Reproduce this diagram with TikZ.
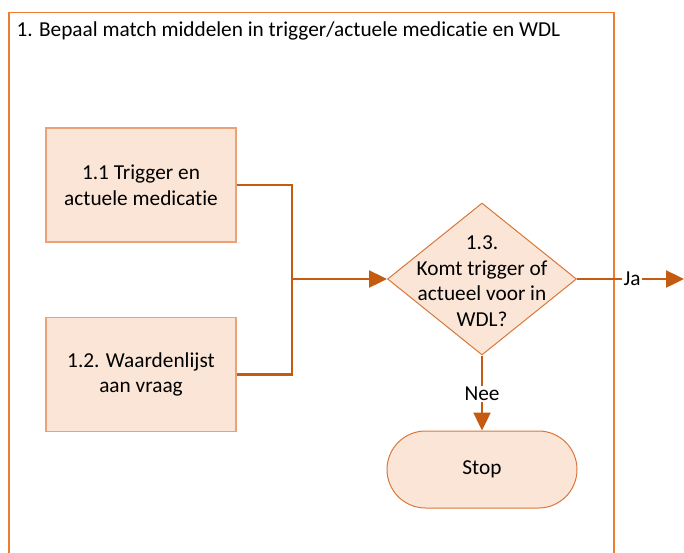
\documentclass[tikz,border=0pt]{standalone}
\usepackage{fontspec}
\setmainfont[Ligatures=NoCommon]{Carlito}
\usetikzlibrary{arrows.meta,shapes.geometric,shapes.misc}
\definecolor{frameor}{HTML}{ED7D31}
\definecolor{connor}{HTML}{C55A11}
\definecolor{boxfill}{HTML}{FBE5D6}
\definecolor{boxline}{HTML}{EBA277}
\definecolor{shapeline}{HTML}{D9773A}
\tikzset{
  txt/.style={font=\fontsize{21.3}{25.6}\selectfont, text=black},
  stepbox/.style={txt, draw=boxline, line width=1.2pt, fill=boxfill, minimum width=190pt, minimum height=114pt, align=center, inner sep=0pt},
  decision/.style={diamond, draw=shapeline, line width=1pt, fill=boxfill, minimum width=189pt, minimum height=152pt, inner sep=0pt},
  terminal/.style={rounded rectangle, draw=shapeline, line width=1pt, fill=boxfill, minimum width=190pt, minimum height=77pt, inner sep=0pt, txt},
  conn/.style={draw=connor, line width=2.4pt},
  arr/.style={-{Triangle[length=18pt,width=17pt]}},
  lbl/.style={txt, fill=white, inner sep=1pt}
}
\begin{document}
\begin{tikzpicture}[x=1pt,y=-1pt]
\useasboundingbox (0,0) rectangle (684,552);
% frame
\draw[frameor, line width=1.8pt] (9,553) -- (9,12.5) -- (614,12.5) -- (614,553);
\node[txt, anchor=west] (title) at (13,31) {1. Bepaal match middelen in trigger/actuele medicatie en WDL};
% boxes
\node[stepbox] (b1) at (141,185) {1.1 Trigger en\\actuele medicatie};
\node[stepbox] (b2) at (141,374.5) {1.2. Waardenlijst\\aan vraag};
% decision
\node[decision] (d) at (482,279) {};
\node[txt, align=center] (dt) at (482,281) {1.3.\\Komt trigger of\\actueel voor in\\WDL?};
% stop
\node[terminal] (stop) at (482,469.5) {\raisebox{-2pt}{Stop}};
% connectors
\coordinate (j) at (292,279);
\coordinate (out) at (684,279);
\draw[conn] (b1.east) -| (j) |- (b2.east);
\draw[conn, arr] (j) -- (d.west);
\node[lbl] (ja) at (632,279) {Ja};
\draw[conn] (d.east) -- (ja.west);
\draw[conn, arr] (ja.east) -- (out);
\node[lbl] (nee) at (482,394) {Nee};
\draw[conn] (d.south) -- (nee.north);
\draw[conn, arr] (nee.south) -- (stop.north);
\end{tikzpicture}
\end{document}
